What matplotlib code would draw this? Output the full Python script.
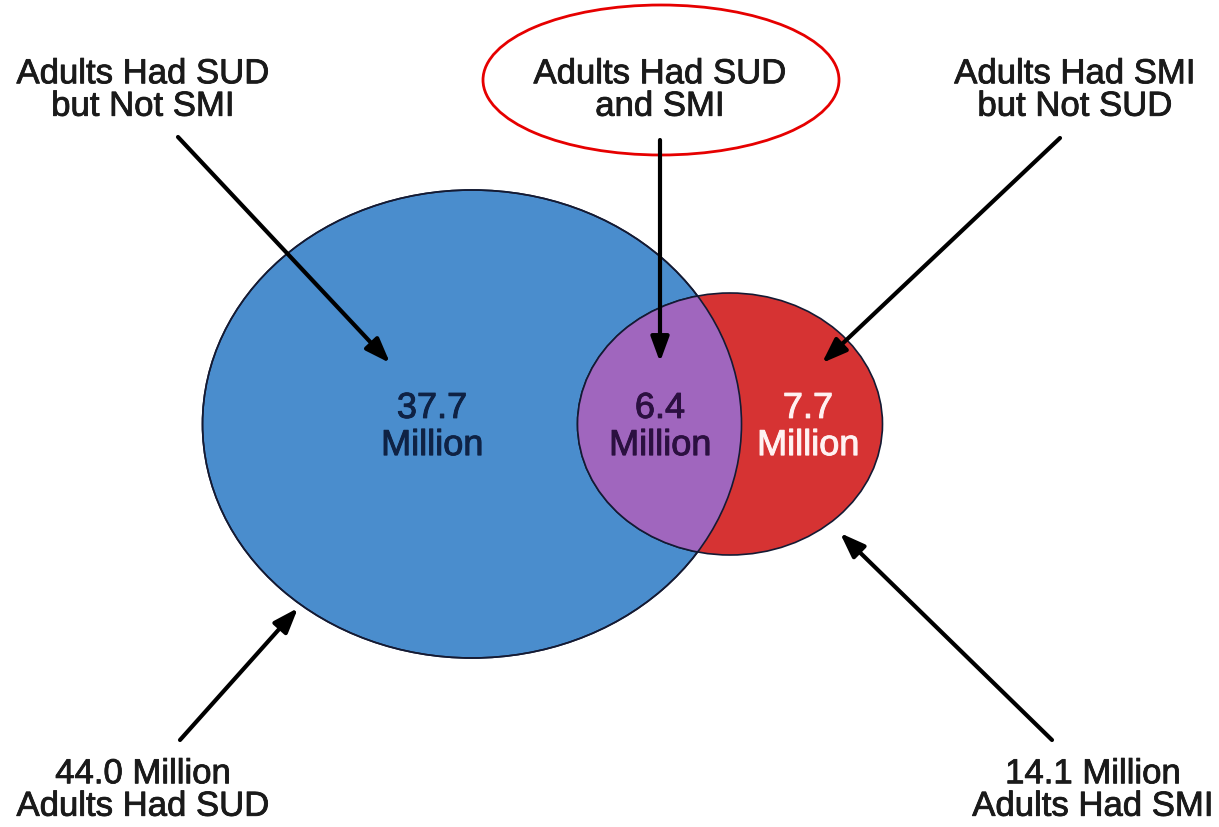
import matplotlib
matplotlib.use('Agg')
import matplotlib.pyplot as plt
import matplotlib.patheffects as pe
from matplotlib.patches import Ellipse

# ── Data ──────────────────────────────────────────────
region_values = [37.7, 6.4, 7.7]          # SUD only, both, SMI only (millions)
total_sud, total_smi = 44.0, 14.1
top_labels = ["Adults Had SUD\nbut Not SMI", "Adults Had SUD\nand SMI", "Adults Had SMI\nbut Not SUD"]
bottom_labels = [f"{total_sud:.1f} Million\nAdults Had SUD", f"{total_smi:.1f} Million\nAdults Had SMI"]

BLUE, RED, PURPLE = '#4A8DCD', '#D63333', '#A066BE'
EDGE = '#141a33'
plt.rcParams['font.family'] = ['Liberation Sans', 'DejaVu Sans']

fig = plt.figure(figsize=(12.19, 8.27), dpi=100)
ax = fig.add_axes([0, 0, 1, 1])
ax.set_xlim(0, 1219); ax.set_ylim(827, 0); ax.axis('off')

# ── Venn ellipses ─────────────────────────────────────
blue = Ellipse((472, 424), 539, 468, facecolor=BLUE, edgecolor=EDGE, lw=1.2, zorder=1)
red = Ellipse((730, 424), 305, 262, facecolor=RED, edgecolor=EDGE, lw=1.2, zorder=2)
ax.add_patch(blue); ax.add_patch(red)
clip = Ellipse((472, 424), 539, 468, transform=ax.transData, facecolor='none')
ax.add_patch(clip); clip.set_visible(False)
inter = Ellipse((730, 424), 305, 262, facecolor=PURPLE, edgecolor=EDGE, lw=1.2, zorder=3)
ax.add_patch(inter); inter.set_clip_path(clip)
ax.add_patch(Ellipse((472, 424), 539, 468, facecolor='none', edgecolor=EDGE, lw=1.2, zorder=4))

# ── Region values ─────────────────────────────────────
for x, v, c in zip([432, 660, 808], region_values, ['#0f2244', '#2b1040', '#fff2f2']):
    ax.text(x, 427, f"{v:.1f}\nMillion", ha='center', va='center', fontsize=26,
            color=c, linespacing=1.08, zorder=5,
            path_effects=[pe.withStroke(linewidth=0.7, foreground=c)])

# ── Labels ────────────────────────────────────────────
fs = 25
bold = [pe.withStroke(linewidth=0.6, foreground='#1a1a1a')]
for x, s in zip([143, 660, 1075], top_labels):
    ax.text(x, 90, s, ha='center', va='center', fontsize=fs, color='#1a1a1a',
            linespacing=0.98, path_effects=bold)
for x, s in zip([143, 1093], bottom_labels):
    ax.text(x, 790, s, ha='center', va='center', fontsize=fs, color='#1a1a1a',
            linespacing=0.98, path_effects=bold)

ax.add_patch(Ellipse((661, 80), 356, 150, facecolor='none', edgecolor='#e60000', lw=2))

# ── Arrows ────────────────────────────────────────────
arrows = [((178, 137), (390, 363)), ((660, 140), (660, 362)), ((1060, 138), (822, 363)),
          ((180, 740), (298, 608)), ((1052, 740), (840, 533))]
for (x0, y0), (x1, y1) in arrows:
    ax.annotate('', xy=(x1, y1), xytext=(x0, y0), zorder=6,
                arrowprops=dict(arrowstyle='-|>,head_length=1.5,head_width=0.55', color='black',
                                lw=3, shrinkA=0, shrinkB=0))

plt.savefig('out.png', dpi=100, facecolor='white')
